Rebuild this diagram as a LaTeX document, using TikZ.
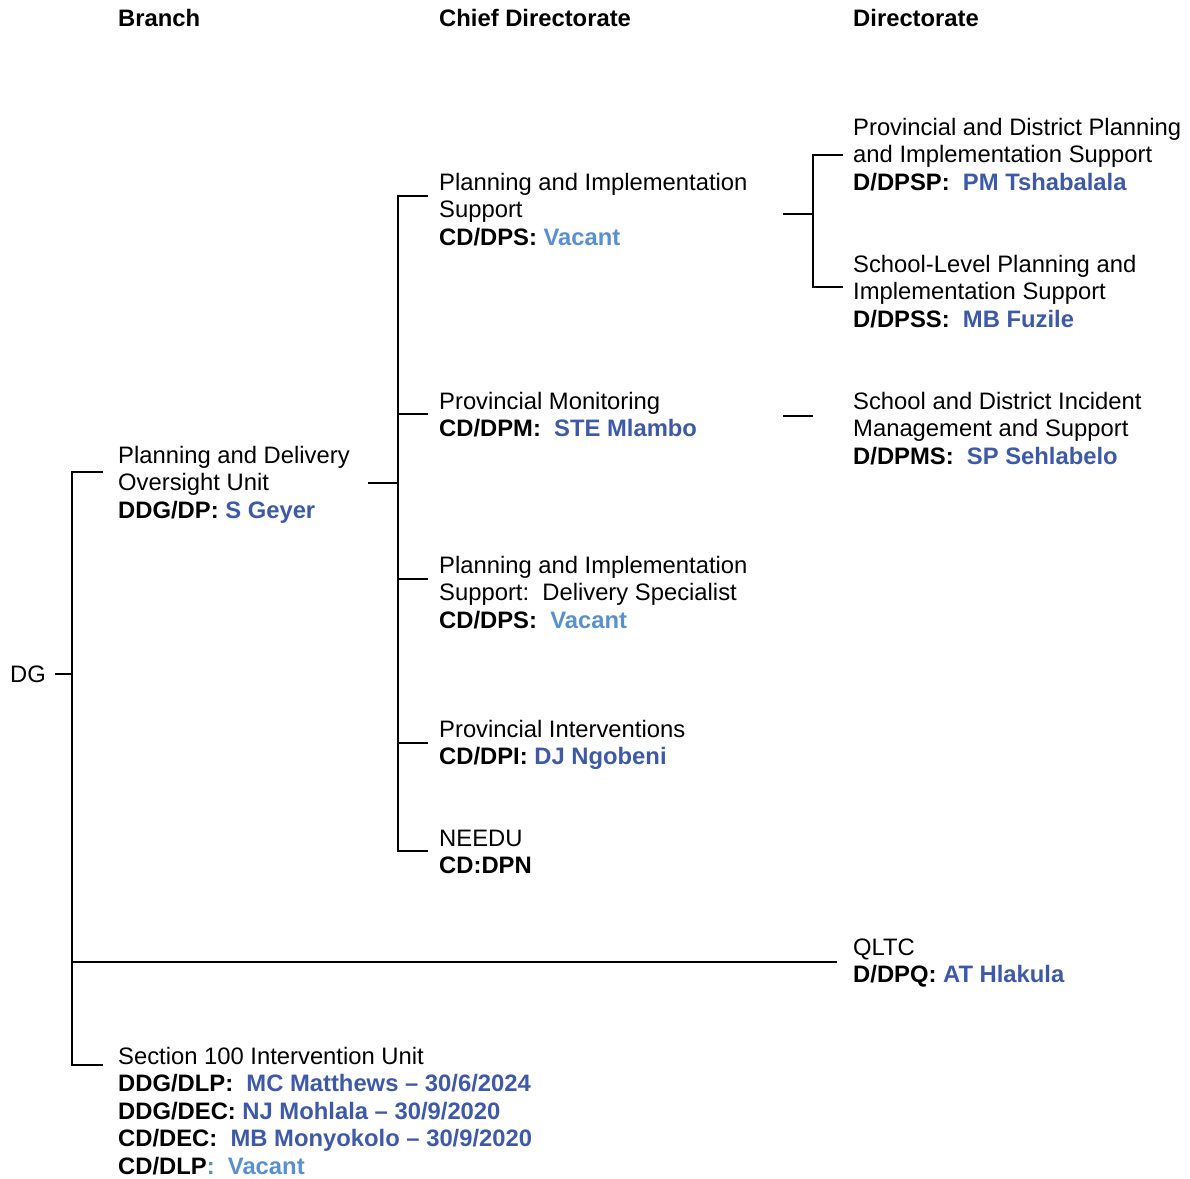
\documentclass[tikz,border=0pt]{standalone}
\usepackage{fontspec}
\setmainfont{Liberation Sans}
\definecolor{nameblue}{RGB}{62,88,170}
\definecolor{vacantblue}{RGB}{88,144,210}
% strut that fixes the height of the first line of every entry
\newcommand\fl{\rule{0pt}{20pt}}
\newcommand\nm[1]{\textbf{\color{nameblue}#1}}
\newcommand\vac[1]{\textbf{\color{vacantblue}#1}}
\begin{document}
\begin{tikzpicture}[x=1pt,y=-1pt,
  entry/.style={anchor=north west, inner sep=0pt, align=left,
                font=\fontsize{23.8}{27.5}\selectfont},
  head/.style={anchor=base west, inner sep=0pt,
               font=\fontsize{23.8}{27.5}\selectfont\bfseries},
  link/.style={line width=1.3pt, black}]
\useasboundingbox (0,0) rectangle (1190,1178);

% column headings
\node[head] (hb) at (118,26) {Branch};
\node[head] (hc) at (439,26) {Chief Directorate};
\node[head] (hd) at (853,26) {Directorate};

% root
\node[head, font=\fontsize{23.8}{27.5}\selectfont] (dg) at (10,682) {DG};

% branches
\node[entry] (pdo) at (118,442.8) {\fl Planning and Delivery\\Oversight Unit\\\textbf{DDG/DP:} \nm{S Geyer}};
\node[entry] (sec) at (118,1043.8) {\fl Section 100 Intervention Unit\\
  \textbf{DDG/DLP:}\ \ \nm{MC Matthews -- 30/6/2024}\\
  \textbf{DDG/DEC:} \nm{NJ Mohlala -- 30/9/2020}\\
  \textbf{CD/DEC:}\ \ \nm{MB Monyokolo -- 30/9/2020}\\
  \textbf{CD/DLP}\vac{:\ \ Vacant}};

% chief directorates
\node[entry] (cd1) at (439,169.8) {\fl Planning and Implementation\\Support\\\textbf{CD/DPS:} \vac{Vacant}};
\node[entry] (cd2) at (439,388.8) {\fl Provincial Monitoring\\\textbf{CD/DPM:}\ \ \nm{STE Mlambo}};
\node[entry] (cd3) at (439,552.8) {\fl Planning and Implementation\\Support:\ \ Delivery Specialist\\\textbf{CD/DPS:}\ \ \vac{Vacant}};
\node[entry] (cd4) at (439,716.8) {\fl Provincial Interventions\\\textbf{CD/DPI:} \nm{DJ Ngobeni}};
\node[entry] (cd5) at (439,825.8) {\fl NEEDU\\\textbf{CD:DPN}};

% directorates
\node[entry] (d1) at (853,114.8) {\fl Provincial and District Planning\\and Implementation Support\\\textbf{D/DPSP:}\ \ \nm{PM Tshabalala}};
\node[entry] (d2) at (853,251.8) {\fl School-Level Planning and\\Implementation Support\\\textbf{D/DPSS:}\ \ \nm{MB Fuzile}};
\node[entry] (d3) at (853,388.8) {\fl School and District Incident\\Management and Support\\\textbf{D/DPMS:}\ \ \nm{SP Sehlabelo}};
\node[entry] (dq) at (853,934.8) {\fl QLTC\\\textbf{D/DPQ:} \nm{AT Hlakula}};

% junction points of the brackets
\coordinate (aT) at (72,472);
\coordinate (aM) at (72,674);
\coordinate (aQ) at (72,962);
\coordinate (aB) at (72,1065);
\coordinate (pdoOut) at (368,483);
\coordinate (bT) at (398,196);
\coordinate (bM) at (398,483);
\coordinate (bB) at (398,851);
\coordinate (cd1Out) at (783,214);
\coordinate (cT) at (813,155);
\coordinate (cM) at (813,214);
\coordinate (cB) at (813,287);
\coordinate (cd2Out) at (783,416);
\coordinate (cd2End) at (813,416);

% DG bracket
\draw[link] ([xshift=8.5pt]dg.east |- aM) -- (aM);
\draw[link] ([xshift=-15pt]pdo.west |- aT) -- (aT) -- (aB) -- ([xshift=-15pt]sec.west |- aB);
\draw[link] (aQ) -- ([xshift=-16pt]dq.west |- aQ);

% chief directorate bracket
\draw[link] (pdoOut) -- (bM);
\draw[link] ([xshift=-11pt]cd1.west |- bT) -- (bT) -- (bB) -- ([xshift=-11pt]cd5.west |- bB);
\draw[link] (cd2.west |- 0,414) ++(-11,0) -- (398,414);
\draw[link] (cd3.west |- 0,579) ++(-11,0) -- (398,579);
\draw[link] (cd4.west |- 0,743) ++(-11,0) -- (398,743);

% directorate brackets
\draw[link] (cd1Out) -- (cM);
\draw[link] ([xshift=-10pt]d1.west |- cT) -- (cT) -- (cB) -- ([xshift=-10pt]d2.west |- cB);
\draw[link] (cd2Out) -- (cd2End);
\end{tikzpicture}
\end{document}
